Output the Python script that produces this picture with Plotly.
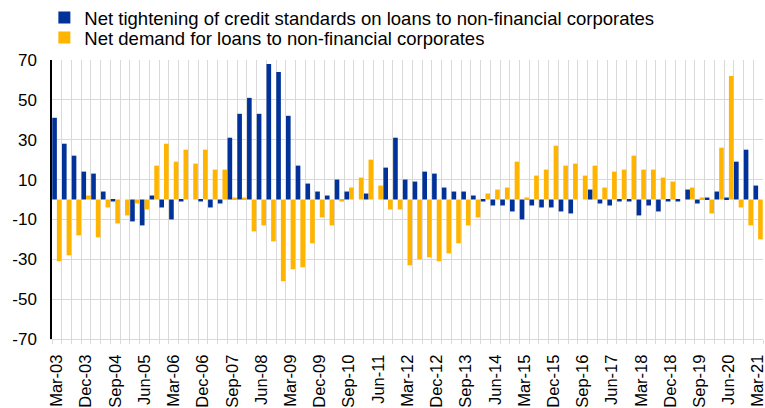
import plotly.graph_objects as go

quarters = []
for y in range(2003, 2022):
    for m in ["Mar", "Jun", "Sep", "Dec"]:
        quarters.append(f"{m}-{str(y)[2:]}")
quarters = quarters[:73]

tightening = [41, 28, 22, 14, 13, 4, -1, 0, -11, -13,
              2, -4, -10, -1, 0, -1, -4, -2, 31, 43,
              51, 43, 68, 64, 42, 17, 8, 4, 2, 10,
              4, 0, 3, 0, 16, 31, 10, 9, 14, 13,
              6, 4, 4, 2, -1, -3, -3, -6, -10, -3,
              -4, -4, -6, -7, 0, 5, -2, -3, -1, -1,
              -8, -3, -6, -1, -1, 5, -2, 1, 4, 1,
              19, 25, 7]
demand = [-31, -28, -18, 2, -19, -4, -12, -8, -2, -5,
          17, 28, 19, 25, 18, 25, 15, 15, 1, 1,
          -16, -13, -21, -41, -35, -34, -22, -9, -13, -1,
          6, 11, 20, 7, -5, -5, -33, -30, -29, -31,
          -27, -22, -13, -9, 3, 5, 6, 19, 1, 12,
          15, 27, 17, 18, 12, 17, 6, 14, 15, 22,
          15, 15, 11, 9, 0, 6, 1, -7, 26, 62,
          -4, -13, -20]
y_ticks = [-70, -50, -30, -10, 10, 30, 50, 70]

x = list(range(len(quarters)))
tick_idx = list(range(0, len(quarters), 3))

fig = go.Figure()
fig.add_trace(go.Bar(x=x, y=tightening, name="Net tightening of credit standards on loans to non-financial corporates",
                     marker=dict(color="#003299", line=dict(width=0)), legend="legend"))
fig.add_trace(go.Bar(x=x, y=demand, name="Net demand for loans to non-financial corporates",
                     marker=dict(color="#FFB400", line=dict(width=0)), legend="legend2"))

font = "Liberation Sans, Arial, sans-serif"
leg_common = dict(xref="container", yref="container", x=0.058, xanchor="left", yanchor="middle",
                  font=dict(size=18.5), itemwidth=30, bgcolor="rgba(0,0,0,0)")
fig.update_layout(
    width=765, height=408,
    margin=dict(l=52, r=2, t=60, b=69, autoexpand=False),
    plot_bgcolor="white", paper_bgcolor="white",
    barmode="group", bargap=0.05, bargroupgap=0,
    font=dict(family=font, size=17, color="#000000"),
    showlegend=True,
    legend=dict(y=1 - 18 / 408, **leg_common),
    legend2=dict(y=1 - 38 / 408, **leg_common),
)
fig.update_xaxes(
    range=[-0.5, len(quarters) - 0.5],
    tickmode="array", tickvals=[x[i] for i in tick_idx], ticktext=[quarters[i] for i in tick_idx],
    tickangle=-90, showgrid=False, ticks="", zeroline=False,
    showline=True, linecolor="#d9d9d9", linewidth=1,
    minor=dict(tickvals=[k - 0.5 for k in range(len(quarters) + 1)], showgrid=True,
               gridcolor="#d9d9d9", gridwidth=1, ticks="outside", ticklen=4, tickcolor="#d9d9d9"),
    tickfont=dict(size=16.5), ticklabelstandoff=8, ticklabeloverflow="allow",
)
fig.update_yaxes(
    range=[-70, 70], tickmode="array", tickvals=y_ticks, ticktext=[str(v) for v in y_ticks],
    showgrid=True, gridcolor="#d9d9d9", gridwidth=1, zeroline=False,
    showline=True, linecolor="#000000", linewidth=1.5,
    ticks="", ticklabelstandoff=10, tickfont=dict(size=17),
)
fig.write_html("out.html", config={"displayModeBar": False},
               post_script="document.body.style.margin='0';")
